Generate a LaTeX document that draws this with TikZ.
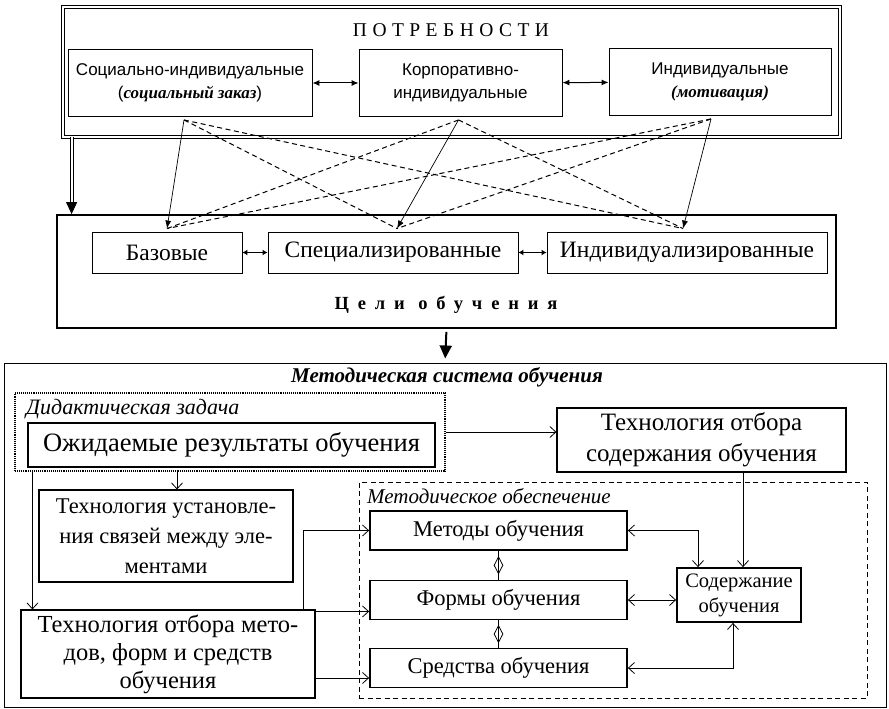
\documentclass[tikz,border=0pt]{standalone}
\usepackage{fontspec}
\setmainfont{Liberation Serif}
\setsansfont{Liberation Sans}
\newfontfamily\widefont[LetterSpace=28]{Liberation Serif}
\newfontfamily\widerfont[LetterSpace=48]{Liberation Serif}
\usetikzlibrary{arrows.meta,shapes.geometric}

\begin{document}
\begin{tikzpicture}[x=1pt, y=-1pt,
    box/.style={rectangle, draw, line width=0.9pt, align=center, inner sep=2pt},
    boldbox/.style={box, line width=1.8pt},
    topbox/.style={box, font=\sffamily\fontsize{17}{23}\selectfont, minimum height=67pt},
    aimbox/.style={box, font=\fontsize{23.5}{26}\selectfont, minimum height=41pt},
    techbox/.style={box, line width=1.1pt, font=\fontsize{24}{29}\selectfont},
    toolbox/.style={boldbox, font=\fontsize{22.5}{26}\selectfont, minimum width=257pt, minimum height=39pt},
    link/.style={line width=0.7pt, -{Latex[length=8pt,width=6pt]}},
    maybe/.style={line width=1pt, dash pattern=on 5pt off 3.5pt},
    both/.style={line width=1pt, {Latex[length=7pt,width=6pt]}-{Latex[length=7pt,width=6pt]}},
    feed/.style={line width=0.8pt, -{Straight Barb[length=6pt,width=11pt]}},
    feedboth/.style={line width=0.8pt, {Straight Barb[length=6pt,width=11pt]}-{Straight Barb[length=6pt,width=11pt]}},
    dmd/.style={diamond, draw, line width=0.8pt, inner sep=0pt, minimum width=9pt, minimum height=17pt}
]
    \useasboundingbox (0,0) rectangle (889,709);

    % Needs
    \node[box, double, double distance=2pt, line width=0.8pt, minimum width=777pt, minimum height=130pt] (potr) at (451.5,72) {};
    \node[font=\widefont\fontsize{19.5}{21}\selectfont] (potrtitle) at (451,30) {ПОТРЕБНОСТИ};
    \node[topbox, minimum width=244pt] (soc) at (190,83) {Социально-индивидуальные\\({\rmfamily\bfseries\itshape социальный заказ})};
    \node[topbox, minimum width=203pt] (korp) at (460.5,83) {Корпоративно-\\индивидуальные};
    \node[topbox, minimum width=222pt] (ind) at (720,82) {Индивидуальные\\{\rmfamily\bfseries\itshape (мотивация)}};
    \draw[both] (soc) -- (korp);
    \draw[both] (korp) -- (ind);

    % Aims
    \node[boldbox, minimum width=779pt, minimum height=113pt] (celi) at (446.5,271.5) {};
    \node[font=\widerfont\bfseries\fontsize{18.5}{20}\selectfont] (celititle) at (446,305) {Цели обучения};
    \node[aimbox, minimum width=150pt] (baz) at (167,252.5) {Базовые};
    \node[aimbox, minimum width=250pt] (spec) at (393,252.5) {Специализированные};
    \node[aimbox, minimum width=280pt] (indv) at (687,252.5) {Индивидуализированные};
    \draw[both, {Latex[length=5pt,width=6pt]}-{Latex[length=5pt,width=6pt]}] (baz) -- (spec);
    \draw[both, {Latex[length=5pt,width=6pt]}-{Latex[length=5pt,width=6pt]}] (spec) -- (indv);
    \draw[line width=1pt, double, double distance=2pt, shorten >=9pt] ([xshift=9pt]potr.south west) -- ([xshift=9pt]potr.south west |- celi.north);
    \draw[-{Triangle[length=12pt,width=11pt]}, line width=1pt] ([xshift=9pt,yshift=10pt]potr.south west |- celi.north) -- ([xshift=9pt]potr.south west |- celi.north);

    % needs to aims
    \coordinate (s1) at ([xshift=-6pt,yshift=-3pt]soc.south);
    \coordinate (s2) at ([xshift=-2pt,yshift=-3pt]korp.south);
    \coordinate (s3) at ([xshift=-9pt,yshift=-3pt]ind.south);
    \coordinate (t1) at ([yshift=3pt]baz.north);
    \coordinate (t2) at ([xshift=4pt,yshift=3pt]spec.north);
    \coordinate (t3) at ([xshift=-4pt,yshift=3pt]indv.north);
    \draw[link] (s1) -- (t1);
    \draw[link] (s2) -- (t2);
    \draw[link] (s3) -- (t3);
    \draw[maybe] (s1) -- (t2);
    \draw[maybe] (s1) -- (t3);
    \draw[maybe] (s2) -- (t1);
    \draw[maybe] (s2) -- (t3);
    \draw[maybe] (s3) -- (t1);
    \draw[maybe] (s3) -- (t2);

    % Method system
    \node[box, line width=1pt, minimum width=882pt, minimum height=344pt] (metsys) at (445,535) {};
    \draw[line width=2pt, -{Triangle[length=13pt,width=12pt]}, shorten <=3pt, shorten >=4pt] (celi.south) -- (metsys.north);
    \node[font=\bfseries\itshape\fontsize{21}{23}\selectfont] (metsystitle) at (447,377) {Методическая система обучения};

    \node[box, densely dotted, line width=1.2pt, minimum width=430pt, minimum height=78pt] (didak) at (230,432) {};
    \node[anchor=west, inner sep=0pt, font=\itshape\fontsize{22}{24}\selectfont] (didaktitle) at (26,409) {Дидактическая задача};
    \node[techbox, minimum width=407pt, minimum height=44pt, font=\fontsize{26.5}{30}\selectfont] (ozh) at (231.5,445) {Ожидаемые результаты обучения};
    \node[techbox, minimum width=289pt, minimum height=64pt, font=\fontsize{25}{31}\selectfont] (texsod) at (701.5,440) {Технология отбора\\содержания обучения};
    \node[techbox, minimum width=254pt, minimum height=92pt, font=\fontsize{22.5}{30}\selectfont] (texust) at (166,536) {Технология установле-\\ния связей между эле-\\ментами};
    \node[techbox, minimum width=294pt, minimum height=88pt, font=\fontsize{24.5}{28}\selectfont] (texmet) at (168,654) {Технология отбора мето-\\дов, форм и средств\\обучения};

    \node[box, line width=1pt, dash pattern=on 5pt off 3.5pt, minimum width=508pt, minimum height=216pt] (obesp) at (613,590) {};
    \node[anchor=west, inner sep=0pt, font=\itshape\fontsize{21}{23}\selectfont] (obesptitle) at (367,496) {Методическое обеспечение};
    \node[toolbox] (metody) at (498.5,530.5) {Методы обучения};
    \node[toolbox] (formy) at (498.5,600) {Формы обучения};
    \node[toolbox] (sredstva) at (498.5,668) {Средства обучения};
    \node[boldbox, font=\fontsize{20.5}{25}\selectfont, minimum width=124pt, minimum height=54pt] (soder) at (739,595) {Содержание\\обучения};
    \draw[line width=0.8pt] (metody.south) -- node[dmd] {} (formy.north);
    \draw[line width=0.8pt] (formy.south) -- node[dmd] {} (sredstva.north);

    \draw[feed] (didak.east) -- (didak.east -| texsod.west);
    \draw[feed] ([xshift=11pt]texust.north |- didak.south) -- ([xshift=11pt]texust.north);
    \draw[feed] ([xshift=12pt]texmet.north west |- didak.south) -- ([xshift=12pt]texmet.north west);
    \draw[feed] ([xshift=4pt]soder.north |- texsod.south) -- ([xshift=4pt]soder.north);
    \draw[feedboth] (metody.east) -| ([xshift=-41pt]soder.north);
    \draw[feedboth] (formy.east) -- (formy.east -| soder.west);
    \draw[feedboth] (sredstva.east) -| ([xshift=-6pt]soder.south);
    \draw[feed] ([xshift=-12pt]texmet.north east) |- (metody.west);
    \draw[feed] ([yshift=-2pt]texmet.north east) -- ([yshift=-2pt]texmet.north east -| formy.west);
    \draw[feed] ([yshift=-10pt]texmet.east |- sredstva.west) -- ([yshift=-10pt]sredstva.west);
\end{tikzpicture}
\end{document}
